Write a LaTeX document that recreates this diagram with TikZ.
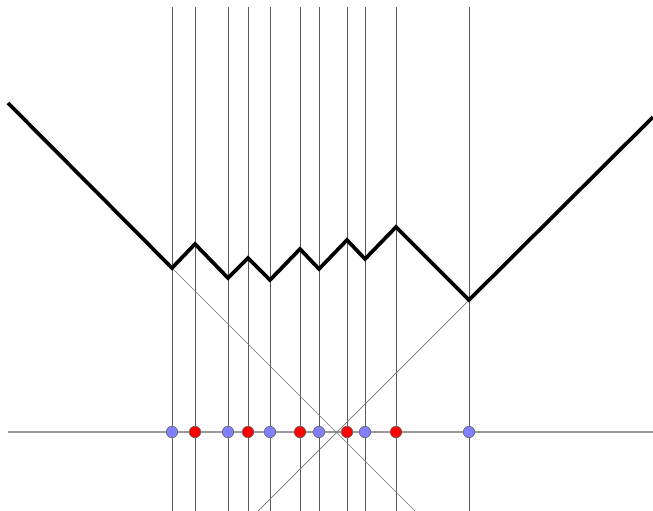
\documentclass[tikz,border=0pt]{standalone}
\begin{document}
\begin{tikzpicture}[x=1pt,y=-1pt,
  vline/.style={draw=black!65,line width=0.9pt},
  hline/.style={draw=black!40,line width=1.2pt},
  diag/.style={draw=black!55,line width=0.7pt},
  thick path/.style={draw=black,line width=3.7pt,line join=miter},
  bdot/.style={circle,draw=black!60,fill=blue!50!white,inner sep=0pt,minimum size=11.5pt,line width=0.6pt},
  rdot/.style={circle,draw=black!60,fill=red,inner sep=0pt,minimum size=11.5pt,line width=0.6pt}]
\useasboundingbox (0,0) rectangle (653,511);
% vertical lines
\foreach \x in {172,195,228,248,270,300,319,347,365,396,469}
  \draw[vline] (\x,7) -- (\x,511);
% horizontal axis
\coordinate (axl) at (8,432);
\coordinate (axr) at (653,432);
\draw[hline] (axl) -- (axr);
% polyline vertices
\coordinate (p0) at (8,103);
\coordinate (p1) at (172,268);
\coordinate (p2) at (195,244);
\coordinate (p3) at (228,278);
\coordinate (p4) at (248,258);
\coordinate (p5) at (270,280);
\coordinate (p6) at (300,249);
\coordinate (p7) at (319,269);
\coordinate (p8) at (347,240);
\coordinate (p9) at (365,259);
\coordinate (p10) at (396,227);
\coordinate (p11) at (469,300);
\coordinate (p12) at (653,117);
% diagonals
\coordinate (d1) at (415,511);
\coordinate (d2) at (258,511);
\draw[diag] (p1) -- (d1);
\draw[diag] (p11) -- (d2);
\draw[thick path] (p0) -- (p1) -- (p2) -- (p3) -- (p4) -- (p5) -- (p6) -- (p7) -- (p8) -- (p9) -- (p10) -- (p11) -- (p12);
% dots
\foreach \x [count=\i] in {172,228,270,319,365,469}
  \node[bdot] (b\i) at (\x,432) {};
\foreach \x [count=\i] in {195,248,300,347,396}
  \node[rdot] (r\i) at (\x,432) {};
\end{tikzpicture}
\end{document}
